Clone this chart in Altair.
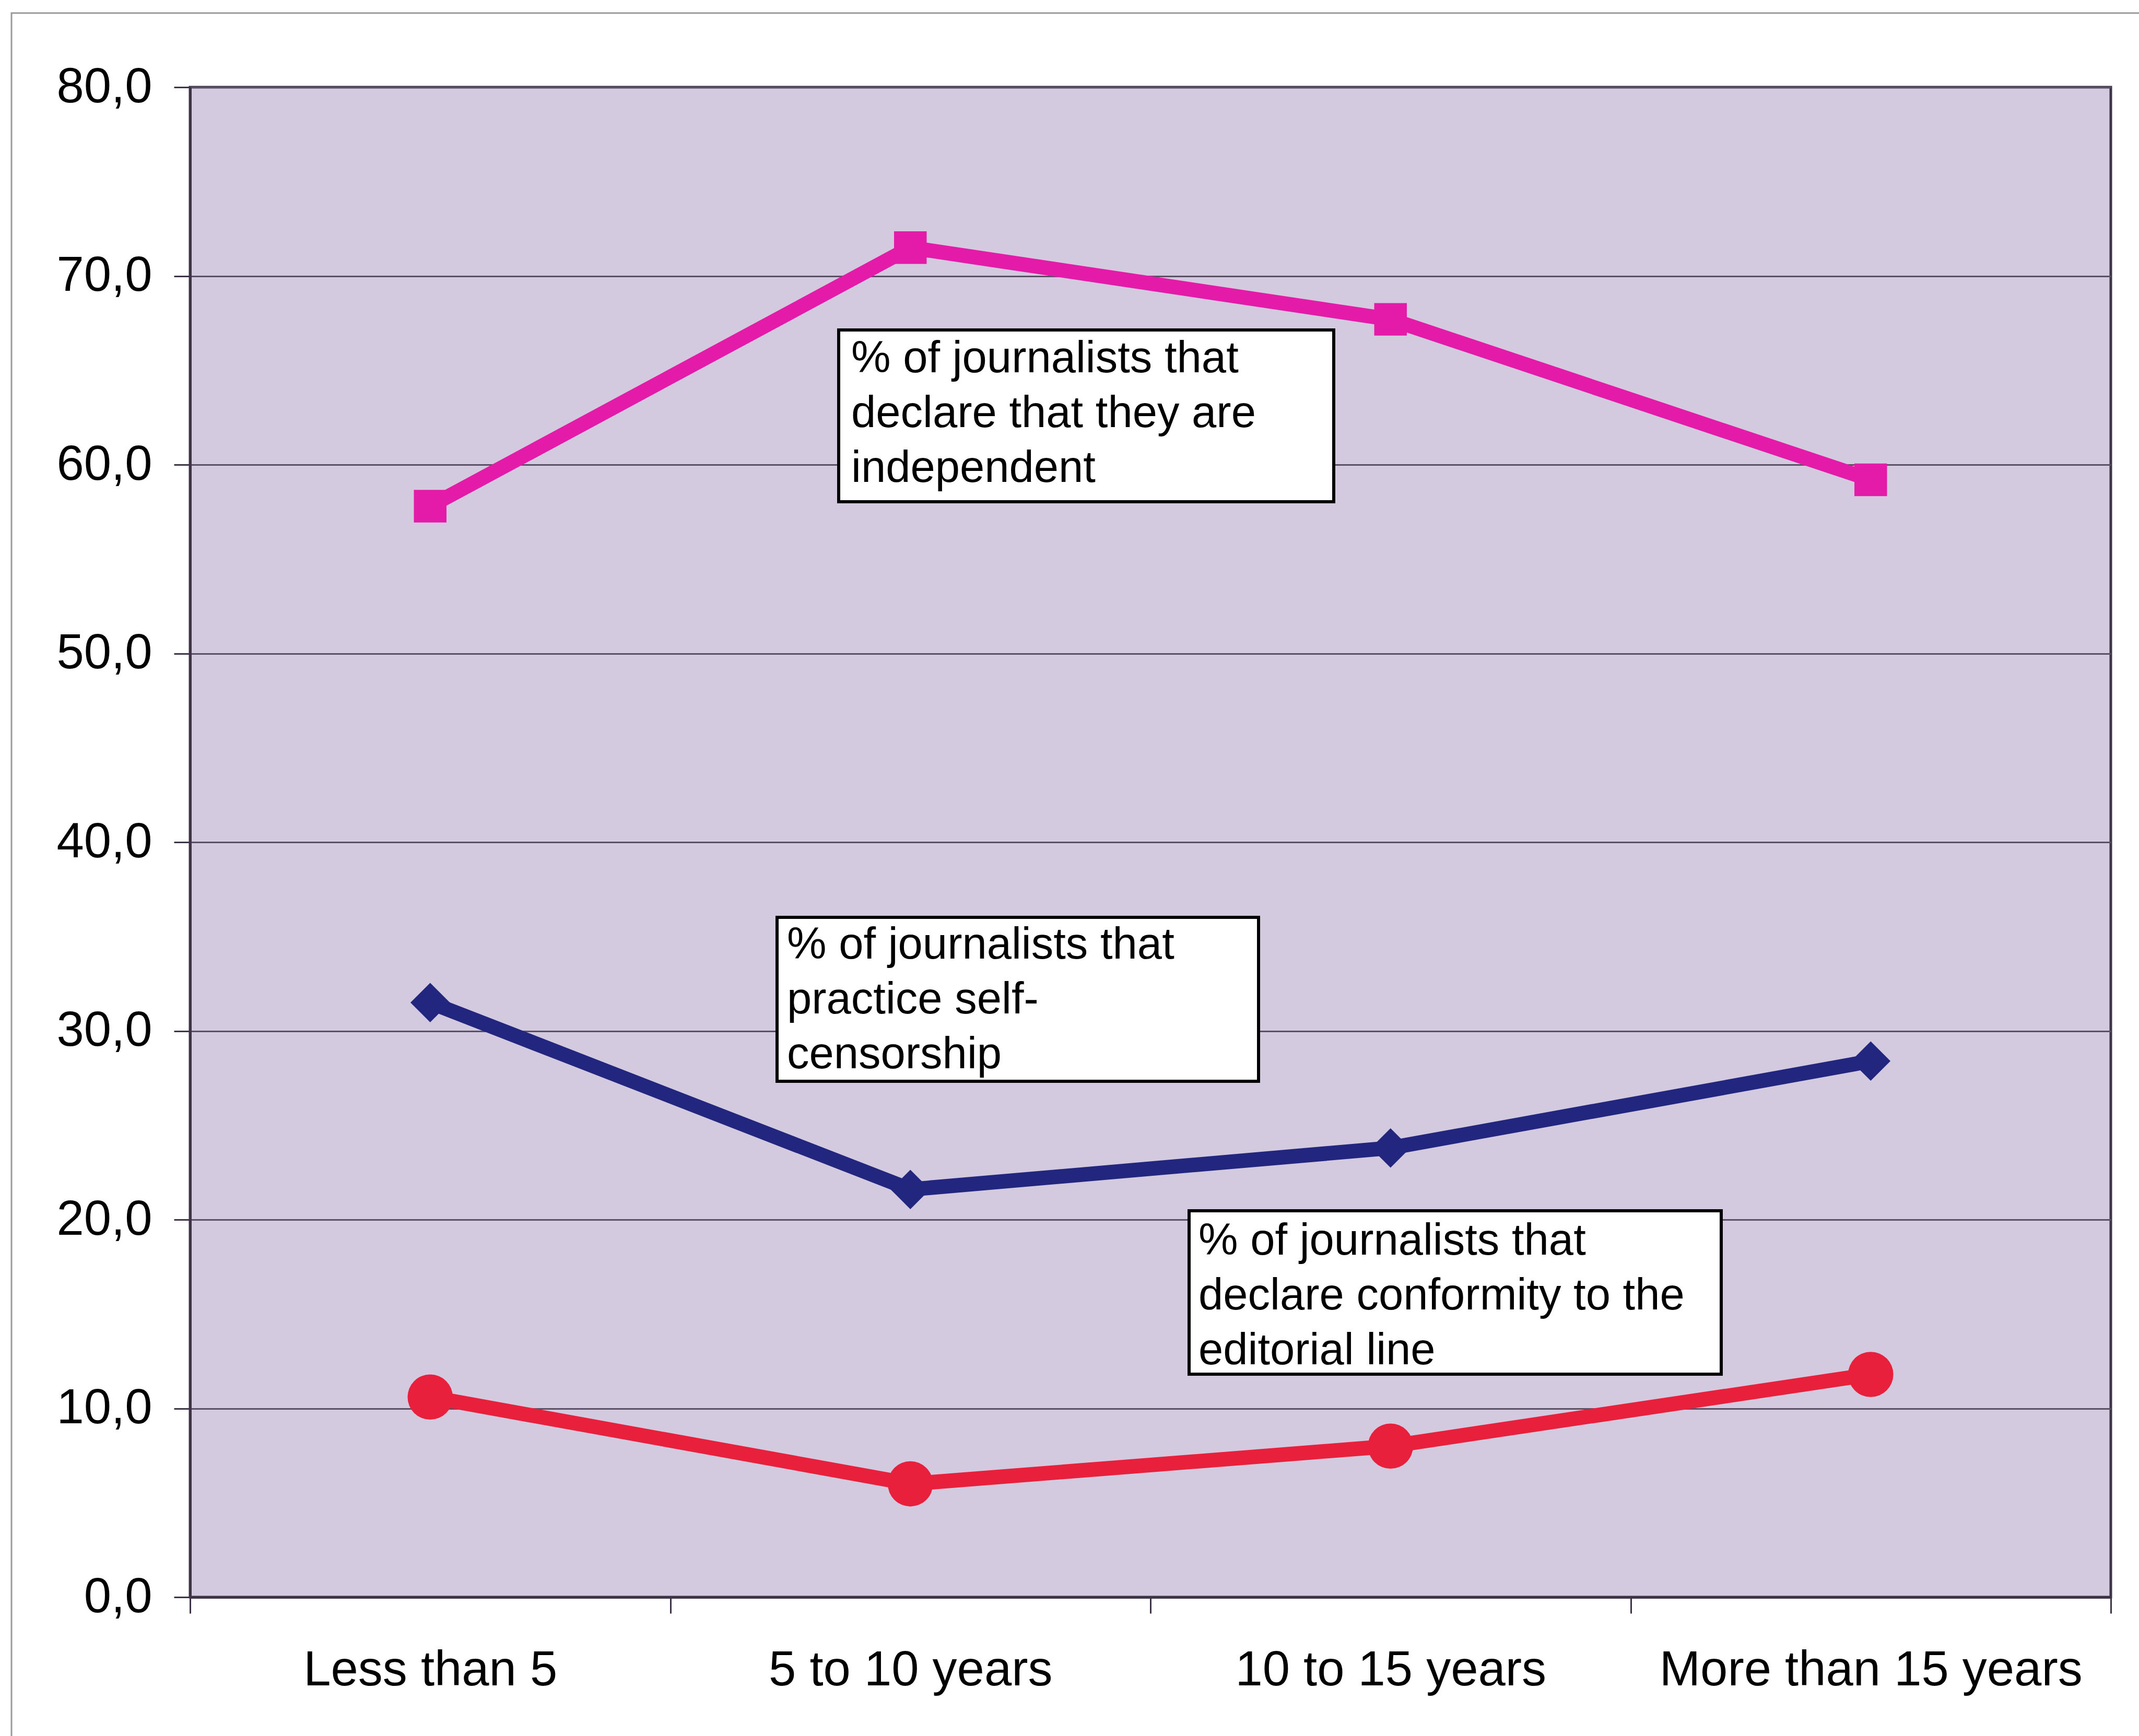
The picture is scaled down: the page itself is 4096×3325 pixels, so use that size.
import altair as alt
import pandas as pd

# ---- data ----
categories = ["Less than 5", "5 to 10 years", "10 to 15 years", "More than 15 years"]
independent = [57.8, 71.5, 67.7, 59.2]
self_censorship = [31.5, 21.6, 23.8, 28.4]
conformity = [10.6, 6.0, 8.0, 11.8]
series_names = ["independent", "self-censorship", "conformity"]
series_colors = ["#E41BA8", "#23267E", "#E8203C"]
series_shapes = ["square", "diamond", "circle"]
y_ticks = [0, 10, 20, 30, 40, 50, 60, 70, 80]

box1_lines = ["% of journalists that", "declare that they are", "independent"]
box2_lines = ["% of journalists that", "practice self-", "censorship"]
box3_lines = ["% of journalists that", "declare conformity to the", "editorial line"]

rows = []
for name, vals in zip(series_names, [independent, self_censorship, conformity]):
    for c, v in zip(categories, vals):
        rows.append({"category": c, "value": v, "series": name})
df = pd.DataFrame(rows)

W, H = 3678, 2892
FONT = "Liberation Sans"

x_enc = alt.X(
    "category:N",
    sort=categories,
    bandPosition=0.5,
    scale=alt.Scale(type="band", domain=categories, paddingInner=0, paddingOuter=0),
    axis=alt.Axis(
        title=None, labelAngle=0, tickBand="extent", grid=False,
        tickSize=31, labelPadding=63, labelFontSize=94, labelLimit=0, labelOverlap=False,
    ),
)
y_enc = alt.Y(
    "value:Q",
    scale=alt.Scale(domain=[0, 80], nice=False, zero=True),
    axis=alt.Axis(
        title=None, values=y_ticks, grid=True, tickSize=31, labelPadding=42,
        labelFontSize=94, labelLimit=0, labelOverlap=False,
        labelExpr="replace(format(datum.value, '.1f'), '.', ',')",
    ),
)
color_enc = alt.Color("series:N", scale=alt.Scale(domain=series_names, range=series_colors), legend=None)
shape_enc = alt.Shape("series:N", scale=alt.Scale(domain=series_names, range=series_shapes), legend=None)
size_enc = alt.Size("series:N", scale=alt.Scale(domain=series_names, range=[3900, 7500, 3900]), legend=None)

base = alt.Chart(df)
lines = base.mark_line(strokeWidth=28, strokeJoin="miter").encode(
    x=x_enc, y=y_enc, color=color_enc, detail="series:N"
)
points = base.mark_point(filled=True, opacity=1).encode(
    x=x_enc, y=y_enc, color=color_enc, shape=shape_enc, size=size_enc
)

one = pd.DataFrame({"k": [0]})

frame = alt.Chart(one).mark_rect(fillOpacity=0, stroke="#9a9a9a", strokeWidth=3).encode(
    x=alt.value(-342), x2=alt.value(3850), y=alt.value(-142), y2=alt.value(3300)
)

def box(x0, x1, y0, y1, tx, ty, lines_text):
    layers = [
        alt.Chart(one).mark_rect(fill="white", stroke="black", strokeWidth=6).encode(
            x=alt.value(x0), x2=alt.value(x1), y=alt.value(y0), y2=alt.value(y1)
        )
    ]
    for i, t in enumerate(lines_text):
        layers.append(
            alt.Chart(one).mark_text(
                align="left", baseline="middle", font=FONT, fontSize=85, color="black"
            ).encode(x=alt.value(tx), y=alt.value(ty + i * 105), text=alt.value(t))
        )
    return layers

b1 = box(1242, 2190, 465, 794, 1266, 520, box1_lines)
b2 = box(1124, 2046, 1590, 1904, 1143, 1643, box2_lines)
b3 = box(1913, 2932, 2152, 2465, 1931, 2210, box3_lines)

chart = alt.layer(frame, lines, points, *b1, *b2, *b3).properties(
    width=W, height=H,
    autosize=alt.AutoSizeParams(type="none"),
    padding={"left": 364, "top": 167, "right": 54, "bottom": 266},
    background="white",
).configure_view(
    fill="#D3CADF", stroke="#3E3448", strokeWidth=5
).configure_axis(
    labelFont=FONT, labelColor="black", domainColor="#3E3448", domainWidth=5,
    tickColor="#3E3448", tickWidth=3, gridColor="#5A5064", gridWidth=3, gridOpacity=1,
)

chart.save("out.html", embed_options={"renderer": "svg", "actions": False})
